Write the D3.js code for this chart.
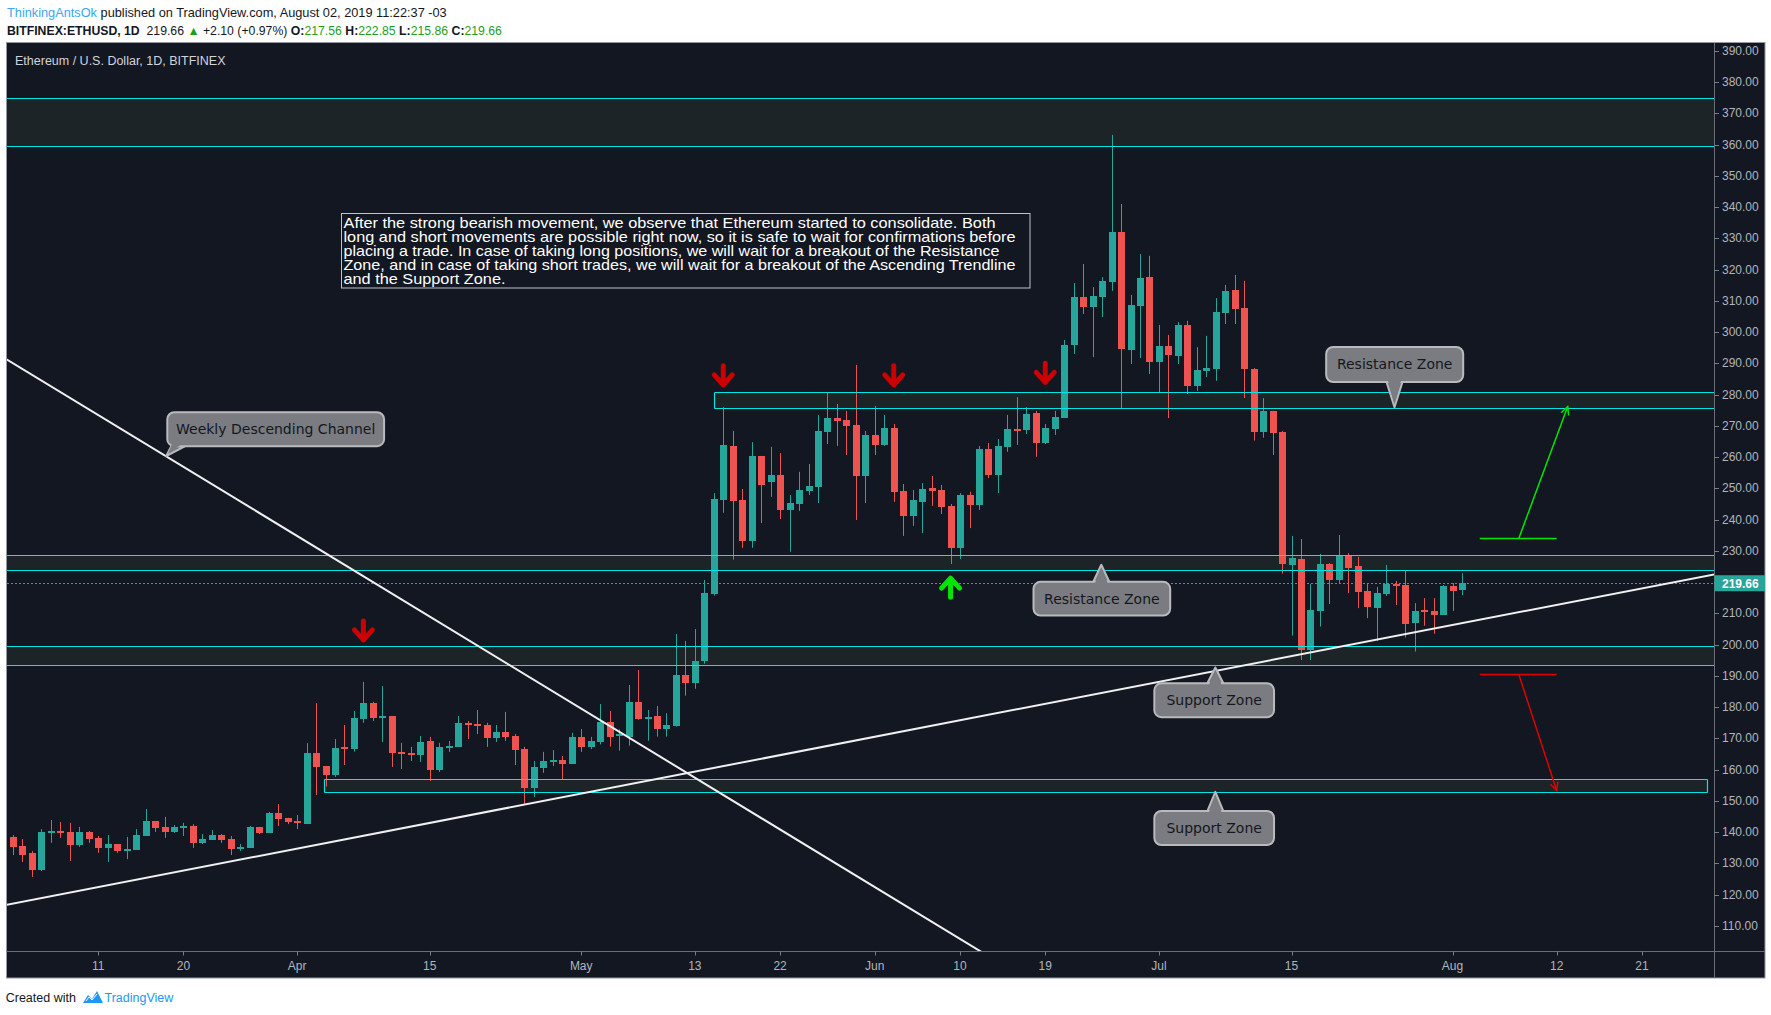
<!DOCTYPE html>
<html><head><meta charset="utf-8">
<script src="https://cdnjs.cloudflare.com/ajax/libs/d3/7.8.5/d3.min.js"></script>
<style>html,body{margin:0;padding:0;background:#ffffff;overflow:hidden}svg{display:block}</style>
</head><body>
<svg id="chart" width="1771" height="1015"></svg>
<script>
// ---------------- DATA ----------------
const firstDay = "2019-03-02"; // one daily candle per day from here
const openP = [
138.5,135.6,133.4,127.9,139.8,140.4,140.1,135.9,140.1,138.2,
135.0,136.2,134.0,134.3,138.8,143.6,141.7,140.1,141.4,142.0,
136.6,137.5,139.1,137.8,134.6,135.0,141.7,139.8,146.2,144.6,
143.6,142.6,165.3,161.2,158.3,167.3,166.6,176.2,181.3,176.6,
177.2,165.7,165.4,164.7,169.2,159.9,167.0,167.3,175.0,174.6,
174.3,170.2,172.1,170.8,166.6,154.2,160.6,162.5,163.1,161.8,
170.5,167.3,169.0,175.3,171.2,170.6,181.7,176.5,177.2,173.1,
174.1,190.3,187.9,194.9,216.3,246.4,263.6,246.3,233.2,260.4,
252.1,254.3,243.1,245.0,249.2,250.5,268.0,272.5,271.9,270.3,
254.0,
267.1,263.9,269.3,249.2,241.2,245.7,250.1,249.5,244.4,230.9,
247.9,244.7,262.6,254.3,263.3,269.0,268.7,274.1,264.5,269.0,
272.5,295.9,311.2,308.0,311.2,316.0,332.0,294.3,308.4,317.6,
290.4,295.6,292.4,302.3,282.8,287.6,288.2,306.1,313.5,307.7,
288.2,268.2,274.8,268.1,225.6,227.4,198.4,210.8,225.8,220.7,
228.4,225.2,217.2,211.7,216.2,219.4,219.1,206.9,211.1,210.8,
209.5,218.8,217.56];
const highP = [
139.1,137.8,134.0,141.0,143.9,143.3,143.0,141.7,140.4,138.8,
139.1,136.2,138.5,141.0,147.4,143.6,144.9,142.3,143.0,142.6,
139.4,140.7,139.4,138.8,136.2,142.0,141.7,146.5,149.0,144.6,
145.5,168.5,181.3,161.2,169.8,174.3,178.8,188.1,181.7,186.8,
177.2,168.6,167.3,170.8,170.5,168.6,169.2,177.2,175.6,179.1,
175.0,174.3,178.5,171.4,167.3,162.8,165.7,166.3,164.4,171.8,
173.0,170.5,181.0,178.8,172.9,187.1,191.9,179.1,180.4,178.1,
203.4,201.2,205.0,220.7,248.5,276.0,268.4,249.8,264.8,260.4,
263.3,261.3,247.9,255.3,257.8,273.5,280.5,277.0,274.8,289.5,
268.4,
276.4,273.5,270.6,251.4,249.5,251.7,254.0,251.1,245.0,248.5,
248.9,263.6,264.5,265.8,273.5,279.2,276.0,274.8,270.6,274.8,
297.5,315.7,321.8,314.4,317.6,363.1,341.0,311.9,325.0,324.4,
302.3,299.1,303.2,303.6,295.2,298.8,310.9,315.1,318.3,316.4,
288.5,278.9,274.8,268.4,234.8,233.8,219.4,229.0,226.1,235.1,
229.3,228.1,219.4,218.5,225.5,220.4,223.6,213.3,214.9,214.9,
219.1,219.7,222.85];
const lowP = [
132.7,130.5,125.7,127.6,136.6,138.2,130.8,135.3,136.6,133.4,
130.5,133.4,131.4,134.3,138.8,140.1,138.2,139.8,138.8,135.0,
136.2,137.5,136.6,132.7,134.0,135.0,139.4,139.8,142.0,142.6,
141.0,142.6,151.9,154.6,157.7,161.5,165.8,175.0,175.6,168.9,
160.9,160.2,162.8,162.5,156.4,159.3,165.7,167.3,169.8,171.4,
167.3,168.9,169.2,161.5,148.7,151.3,159.0,161.2,156.9,161.8,
165.7,166.6,168.1,167.4,166.1,167.7,176.0,169.3,170.6,170.6,
173.8,183.7,185.9,193.9,215.7,242.2,227.2,231.0,231.0,238.9,
247.3,240.2,229.7,242.8,247.9,245.3,264.2,263.6,260.7,239.9,
245.3,
260.7,263.6,245.7,234.8,238.0,235.7,244.4,241.8,225.8,227.4,
237.3,243.1,253.3,248.5,261.7,263.9,267.4,260.1,264.2,267.1,
272.5,293.0,305.8,292.0,304.8,313.2,275.4,289.8,291.7,286.6,
280.8,272.5,289.8,280.2,281.2,285.6,284.4,302.6,302.6,278.9,
265.3,266.2,260.7,222.7,202.9,195.1,195.1,205.8,213.0,219.7,
216.5,211.7,208.5,201.2,215.6,212.7,202.3,197.8,206.1,203.5,
209.5,210.8,215.86];
const closeP = [
135.4,132.7,127.9,140.1,140.4,139.8,135.9,140.1,137.8,135.0,
136.2,134.0,134.6,139.1,143.6,141.4,140.1,141.7,142.0,136.6,
137.8,139.1,137.5,134.6,135.3,141.7,139.8,146.2,144.2,143.3,
143.0,165.3,161.0,158.3,167.0,166.6,176.6,181.3,176.6,177.2,
165.4,165.0,164.7,168.9,159.9,167.3,167.6,175.0,174.3,174.0,
170.2,172.1,170.5,166.3,154.2,160.9,162.8,163.1,161.8,170.5,
167.3,169.2,175.3,170.6,171.5,181.7,176.3,177.0,173.1,174.3,
190.3,187.9,194.8,216.5,246.6,263.9,246.1,233.2,260.4,251.1,
254.3,243.1,245.3,249.5,250.8,268.4,272.5,271.6,270.0,254.0,
267.1,
263.9,269.3,248.9,241.2,246.3,249.8,249.2,244.1,230.9,247.9,
244.7,262.6,254.3,263.6,269.0,268.4,273.8,264.5,269.3,272.8,
295.9,311.2,308.0,311.6,316.4,332.0,294.6,308.7,317.3,290.4,
295.6,292.7,302.3,282.8,287.9,288.5,306.4,313.2,307.4,288.2,
268.0,274.8,267.8,225.9,227.7,198.4,211.1,225.8,220.7,228.4,
224.5,216.9,212.1,216.5,219.4,218.8,206.6,210.8,210.5,209.5,
218.8,217.2,219.66];

const lastPrice = 219.66;
const priceTicks = [110,120,130,140,150,160,170,180,190,200,210,220,230,240,250,260,270,280,290,300,310,320,330,340,350,360,370,380,390];
const xTickDates = ["2019-03-11","2019-03-20","2019-04-01","2019-04-15","2019-05-01","2019-05-13","2019-05-22","2019-06-01","2019-06-10","2019-06-19","2019-07-01","2019-07-15","2019-08-01","2019-08-12","2019-08-21"];
const xTickLabels = ["11","20","Apr","15","May","13","22","Jun","10","19","Jul","15","Aug","12","21"];

// horizontal zones (price bands); null start/end = runs to the plot edge
const zoneLow   = [359.5, 275.6, 223.8, 193.4, 152.8];
const zoneHigh  = [375.0, 280.7, 228.6, 199.5, 156.9];
const zoneStart = [null, "2019-05-15T00:00:00Z", null, null, "2019-04-03T21:00:00Z"];
const zoneEnd   = [null, null, null, null, "2019-08-27T22:00:00Z"];

// trendlines: [date, price] anchors
const trendStart = [["2019-03-01T00:00:00Z", 291.9], ["2019-03-01T00:00:00Z", 116.6]];
const trendEnd   = [["2019-06-14T00:00:00Z", 98.5],  ["2019-08-30T00:00:00Z", 223.3]];

// projection lines
const projLevel = [234.0, 190.5];
const projColor = ["#00e600", "#e00000"];
const projFrom = "2019-08-03T21:00:00Z", projTo = "2019-08-12T00:00:00Z";
const projArrowStart = "2019-08-08T00:00:00Z";
const projArrowEndDate = ["2019-08-13T04:00:00Z", "2019-08-12T00:00:00Z"];
const projArrowEndPrice = [276.2, 153.3];

// signal arrows
const sigDates = ["2019-04-08","2019-05-16","2019-06-03","2019-06-19","2019-06-09"];
const sigPrices = [204.4, 286.0, 286.0, 286.8, 218.4];
const sigDir = ["down","down","down","down","up"];

// callouts
const calloutText = ["Weekly Descending Channel","Resistance Zone","Resistance Zone","Support Zone","Support Zone"];
const calloutDate = ["2019-03-18T04:00:00Z","2019-07-25T21:00:00Z","2019-06-24T22:00:00Z","2019-07-06T23:00:00Z","2019-07-06T23:00:00Z"];
const calloutPrice = [260.3, 275.95, 225.56, 192.7, 152.93];

const noteLines = [
 "After the strong bearish movement, we observe that Ethereum started to consolidate. Both",
 "long and short movements are possible right now, so it is safe to wait for confirmations before",
 "placing a trade. In case of taking long positions, we will wait for a breakout of the Resistance",
 "Zone, and in case of taking short trades, we will wait for a breakout of the Ascending Trendline",
 "and the Support Zone."];

// ---------------- LAYOUT ----------------
const svg = d3.select("#chart");
const PL = 7, PT = 43, PR = 1714, PB = 951.5, PanelR = 1765, PanelB = 978;
const BG = "#131722", UP = "#26a69a", DOWN = "#ef5350", CYAN = "#00e5e5", AX = "#b2b5be";
const FONT = "'Liberation Sans', Arial, sans-serif";

const x = d3.scaleUtc().domain([new Date(Date.UTC(2019,3,1)), new Date(Date.UTC(2019,7,1))]).range([297.1, 1452.5]);
const y = d3.scaleLinear().domain([110, 390]).range([926, 50.8]);
const D = s => new Date(s.length === 10 ? s + "T00:00:00Z" : s);
const r5 = v => Math.round(v) + 0.5;

const candles = openP.map((o, i) => ({
  date: d3.utcDay.offset(D(firstDay), i), o, h: highP[i], l: lowP[i], c: closeP[i]
}));

// panel
svg.append("rect").attr("x", 6.5).attr("y", 42.5).attr("width", PanelR - 6.5).attr("height", PanelB - 42.5)
  .attr("fill", BG).attr("stroke", "#9598a1").attr("stroke-width", 1);

const defs = svg.append("defs");
defs.append("clipPath").attr("id", "plotClip").append("rect")
  .attr("x", PL).attr("y", PT).attr("width", PR - PL).attr("height", PB - PT);

const plot = svg.append("g").attr("clip-path", "url(#plotClip)");

// zone fills
const zones = zoneLow.map((lo, i) => ({lo, hi: zoneHigh[i], s: zoneStart[i], e: zoneEnd[i]}));
plot.selectAll("rect.zone").data(zones).join("rect").attr("class", "zone")
  .attr("x", d => d.s ? r5(x(D(d.s))) : PL)
  .attr("width", d => (d.e ? r5(x(D(d.e))) : PR) - (d.s ? r5(x(D(d.s))) : PL))
  .attr("y", d => r5(y(d.hi))).attr("height", d => r5(y(d.lo)) - r5(y(d.hi)))
  .attr("fill", "#1c2427");

// candles
const cg = plot.append("g");
cg.selectAll("line").data(candles).join("line")
  .attr("x1", d => r5(x(d.date))).attr("x2", d => r5(x(d.date)))
  .attr("y1", d => y(d.h)).attr("y2", d => y(d.l))
  .attr("stroke", d => d.c >= d.o ? UP : DOWN).attr("stroke-width", 1);
cg.selectAll("rect").data(candles).join("rect")
  .attr("x", d => Math.round(x(d.date)) - 3)
  .attr("width", 7)
  .attr("y", d => Math.round(y(Math.max(d.o, d.c))))
  .attr("height", d => Math.max(2, Math.round(y(Math.min(d.o, d.c))) - Math.round(y(Math.max(d.o, d.c)))))
  .attr("fill", d => d.c >= d.o ? UP : DOWN);

// zone outlines
const zl = plot.append("g").attr("fill", "none").attr("stroke", CYAN).attr("stroke-width", 1.2);
zones.forEach(d => {
  const x0 = d.s ? r5(x(D(d.s))) : PL - 2, x1 = d.e ? r5(x(D(d.e))) : PR + 2;
  const y0 = r5(y(d.hi)), y1 = r5(y(d.lo));
  zl.append("line").attr("x1", x0).attr("x2", x1).attr("y1", y0).attr("y2", y0);
  zl.append("line").attr("x1", x0).attr("x2", x1).attr("y1", y1).attr("y2", y1);
  if (d.s) zl.append("line").attr("x1", x0).attr("x2", x0).attr("y1", y0).attr("y2", y1);
  if (d.e) zl.append("line").attr("x1", x1).attr("x2", x1).attr("y1", y0).attr("y2", y1);
});

// last price dashed line
plot.append("line").attr("x1", PL).attr("x2", PR).attr("y1", r5(y(lastPrice))).attr("y2", r5(y(lastPrice)))
  .attr("stroke", UP).attr("stroke-width", 1).attr("stroke-dasharray", "2,2");

// trendlines
trendStart.forEach((s, i) => {
  const e = trendEnd[i];
  plot.append("line").attr("x1", x(D(s[0]))).attr("y1", y(s[1])).attr("x2", x(D(e[0]))).attr("y2", y(e[1]))
    .attr("stroke", "#f0f0f0").attr("stroke-width", 2);
});

// projection lines with arrow heads
projLevel.forEach((lv, i) => {
  const g = plot.append("g").attr("stroke", projColor[i]).attr("stroke-width", 1.5).attr("fill", "none");
  g.append("line").attr("x1", x(D(projFrom))).attr("x2", x(D(projTo))).attr("y1", r5(y(lv))).attr("y2", r5(y(lv)));
  const ax0 = x(D(projArrowStart)), ay0 = y(lv), ax1 = x(D(projArrowEndDate[i])), ay1 = y(projArrowEndPrice[i]);
  g.append("line").attr("x1", ax0).attr("y1", ay0).attr("x2", ax1).attr("y2", ay1);
  const ang = Math.atan2(ay1 - ay0, ax1 - ax0), L = 9, sp = 0.45;
  g.append("path").attr("d", `M${ax1 - L*Math.cos(ang - sp)},${ay1 - L*Math.sin(ang - sp)}L${ax1},${ay1}L${ax1 - L*Math.cos(ang + sp)},${ay1 - L*Math.sin(ang + sp)}`);
});

// signal arrows
sigDates.forEach((sd, i) => {
  const cx = x(D(sd)), cy = y(sigPrices[i]);
  const dn = sigDir[i] === "down" ? 1 : -1;
  const col = dn === 1 ? "#cc0000" : "#00e600";
  plot.append("path")
    .attr("d", `M${cx},${cy - 10*dn}L${cx},${cy + 9*dn}M${cx - 9},${cy - 1*dn}L${cx},${cy + 9*dn}L${cx + 9},${cy - 1*dn}`)
    .attr("fill", "none").attr("stroke", col).attr("stroke-width", 5)
    .attr("stroke-linecap", "round").attr("stroke-linejoin", "round");
});

// callouts (box offsets relative to tip, in px)
const calloutBox = [[1.2, -44, 218, -10], [-68.3, -60.3, 68.7, -25.3], [-67.8, 17, 68.9, 50.8], [-61, 15.8, 58.7, 49.7], [-61, 19.2, 58.7, 53.2]];
calloutText.forEach((t, i) => {
  const tx = x(D(calloutDate[i])), ty = y(calloutPrice[i]);
  const b = calloutBox[i];
  const bx0 = tx + b[0], by0 = ty + b[1], bx1 = tx + b[2], by1 = ty + b[3];
  let p1, p2, q1, q2, tip = [tx, ty], tipIn;
  if (i === 0) { p1 = [bx0 + 4, by1]; p2 = [bx0 + 18, by1]; q1 = [bx0 + 5, by1 - 3]; q2 = [bx0 + 16, by1 - 3]; tipIn = [tx + 2, ty - 3]; }
  else if (b[1] < 0) { p1 = [tx - 8, by1]; p2 = [tx + 8, by1]; q1 = [tx - 7, by1 - 3]; q2 = [tx + 7, by1 - 3]; tipIn = [tx, ty - 3]; }
  else { p1 = [tx - 8, by0]; p2 = [tx + 8, by0]; q1 = [tx - 7, by0 + 3]; q2 = [tx + 7, by0 + 3]; tipIn = [tx, ty + 3]; }
  const g = svg.append("g");
  g.append("path").attr("d", `M${p1}L${tip}L${p2}Z`).attr("fill", "#7a7c81").attr("stroke", "#b9babd").attr("stroke-width", 2).attr("stroke-linejoin", "round");
  g.append("rect").attr("x", bx0).attr("y", by0).attr("width", bx1 - bx0).attr("height", by1 - by0).attr("rx", 7)
    .attr("fill", "#7a7c81").attr("stroke", "#b9babd").attr("stroke-width", 2);
  g.append("path").attr("d", `M${q1}L${tipIn}L${q2}Z`).attr("fill", "#7a7c81");
  g.append("text").attr("x", (bx0 + bx1) / 2).attr("y", (by0 + by1) / 2 + 5).attr("text-anchor", "middle")
    .attr("font-family", "'DejaVu Sans', sans-serif").attr("font-size", 14).attr("fill", "#15171c").text(t);
});

// note text box
svg.append("rect").attr("x", 341.5).attr("y", 213.5).attr("width", 688.5).attr("height", 74.5)
  .attr("fill", BG).attr("stroke", "#c0c2c8").attr("stroke-width", 1);
const noteWidths = [652, 672, 656, 672, 162];
noteLines.forEach((t, i) => {
  svg.append("text").attr("x", 343.5).attr("y", 227.5 + i * 14.2)
    .attr("font-family", "'Liberation Sans Narrow', 'Liberation Sans', sans-serif").attr("font-size", 15)
    .attr("fill", "#ffffff").attr("textLength", noteWidths[i]).attr("lengthAdjust", "spacingAndGlyphs").text(t);
});

// axes frame lines
svg.append("line").attr("x1", r5(PR)).attr("x2", r5(PR)).attr("y1", PT).attr("y2", PanelB).attr("stroke", "#6a6d78");
svg.append("line").attr("x1", 6.5).attr("x2", PanelR).attr("y1", PB).attr("y2", PB).attr("stroke", "#6a6d78");

// price axis
const ya = svg.append("g");
ya.selectAll("line").data(priceTicks).join("line")
  .attr("x1", PR).attr("x2", PR + 5).attr("y1", d => r5(y(d))).attr("y2", d => r5(y(d))).attr("stroke", "#787b86");
ya.selectAll("text").data(priceTicks).join("text")
  .attr("x", PR + 8).attr("y", d => y(d) + 4).attr("font-family", FONT).attr("font-size", 12)
  .attr("fill", AX).text(d => d3.format(".2f")(d));
ya.append("rect").attr("x", PR + 0.5).attr("y", y(lastPrice) - 8).attr("width", PanelR - PR - 0.5).attr("height", 16).attr("fill", UP);
ya.append("text").attr("x", PR + 8).attr("y", y(lastPrice) + 4.5).attr("font-family", FONT).attr("font-size", 12)
  .attr("font-weight", "bold").attr("fill", "#ffffff").text(d3.format(".2f")(lastPrice));

// time axis
const xa = svg.append("g");
xa.selectAll("line").data(xTickDates).join("line")
  .attr("x1", d => r5(x(D(d)))).attr("x2", d => r5(x(D(d)))).attr("y1", PB).attr("y2", PB + 4).attr("stroke", "#787b86");
xa.selectAll("text").data(xTickDates).join("text")
  .attr("x", d => x(D(d))).attr("y", 970).attr("text-anchor", "middle")
  .attr("font-family", FONT).attr("font-size", 12).attr("fill", AX).text((d, i) => xTickLabels[i]);

// title in panel
svg.append("text").attr("x", 15).attr("y", 64.5).attr("font-family", FONT).attr("font-size", 12.5)
  .attr("fill", "#d1d4dc").text("Ethereum / U.S. Dollar, 1D, BITFINEX");

// header (font size scaled so each line spans its measured width)
function fitLine(node, target) {
  const w = node.node().getComputedTextLength();
  if (w > 0) node.attr("font-size", 13 * target / w);
}
const h1 = svg.append("text").attr("x", 7).attr("y", 16.5).attr("font-family", FONT).attr("font-size", 13)
  .attr("fill", "#131722");
h1.append("tspan").attr("fill", "#3da5f4").text("ThinkingAntsOk");
h1.append("tspan").text(" published on TradingView.com, August 02, 2019 11:22:37 -03");
fitLine(h1, 440);

const GREEN = "#1e9e1e";
const h2 = svg.append("text").attr("x", 7).attr("y", 34.5).attr("font-family", FONT).attr("font-size", 13)
  .attr("fill", "#131722").attr("xml:space", "preserve");
h2.append("tspan").attr("font-weight", "bold").text("BITFINEX:ETHUSD, 1D");
h2.append("tspan").text("  219.66 ");
h2.append("tspan").attr("fill", GREEN).text("▲");
h2.append("tspan").text(" +2.10 (+0.97%) ");
[["O:", "217.56"], ["H:", "222.85"], ["L:", "215.86"], ["C:", "219.66"]].forEach((p, i) => {
  h2.append("tspan").attr("font-weight", "bold").text((i ? " " : "") + p[0]);
  h2.append("tspan").attr("fill", GREEN).text(p[1]);
});
fitLine(h2, 495);

// footer
svg.append("text").attr("x", 5.7).attr("y", 1001.5).attr("font-family", FONT).attr("font-size", 12.5)
  .attr("fill", "#131722").text("Created with");
svg.append("path").attr("d", "M83,1003 L88,995 L92,999 L97,991 L103,1003 Z").attr("fill", "#2196f3");
svg.append("path").attr("d", "M86,1001 L89,997 L92,1000 L97,994").attr("fill", "none").attr("stroke", "#ffffff").attr("stroke-width", 1);
svg.append("text").attr("x", 104.5).attr("y", 1001.5).attr("font-family", FONT).attr("font-size", 12.5)
  .attr("fill", "#2196f3").text("TradingView");
</script>
</body></html>
